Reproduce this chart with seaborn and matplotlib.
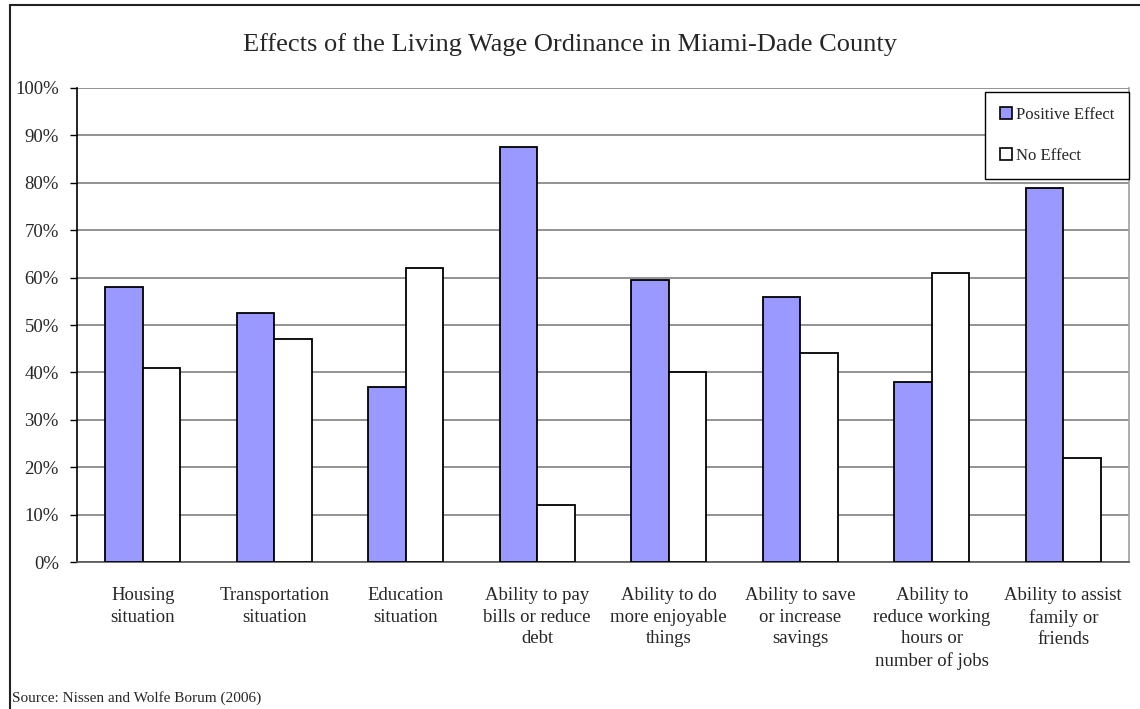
import pandas as pd
import matplotlib.pyplot as plt
import matplotlib.patches as mpatches
import seaborn as sns

# data
categories = [
    "Housing\nsituation",
    "Transportation\nsituation",
    "Education\nsituation",
    "Ability to pay\nbills or reduce\ndebt",
    "Ability to do\nmore enjoyable\nthings",
    "Ability to save\nor increase\nsavings",
    "Ability to\nreduce working\nhours or\nnumber of jobs",
    "Ability to assist\nfamily or\nfriends",
]
positive = [58, 52.5, 37, 87.5, 59.5, 56, 38, 79]
no_effect = [41, 47, 62, 12, 40, 44, 61, 22]
series = ["Positive Effect", "No Effect"]
colors = {"Positive Effect": "#9999FF", "No Effect": "#FFFFFF"}

df = pd.DataFrame({
    "Category": categories * 2,
    "Effect": [series[0]] * len(categories) + [series[1]] * len(categories),
    "Value": positive + no_effect,
})

sns.set_style("white")
plt.rcParams["font.family"] = ["Liberation Serif", "DejaVu Serif"]

fig = plt.figure(figsize=(11.4, 7.09), dpi=100)
ax = fig.add_axes([0.0675, 0.2073, 0.9229, 0.6686])

sns.barplot(data=df, x="Category", y="Value", hue="Effect", palette=colors,
            order=categories, hue_order=series, width=0.57, saturation=1,
            edgecolor="black", linewidth=1.3, ax=ax, legend=False, zorder=3)

ax.set_ylim(0, 100)
ax.set_xlim(-0.5, len(categories) - 0.5)
ax.set_yticks(range(0, 101, 10))
ax.set_yticklabels([f"{v}%" for v in range(0, 101, 10)], fontsize=13.5)
ax.yaxis.grid(True, color="#808080", linewidth=1.2, zorder=0)
ax.set_axisbelow(True)
ax.set_xlabel("")
ax.set_ylabel("")

ax.set_xticks(range(len(categories)))
ax.set_xticklabels(categories, fontsize=13.5, linespacing=1.35)
ax.set_xticks([i - 0.5 for i in range(len(categories) + 1)], minor=True)
ax.tick_params(axis="x", which="major", length=0, pad=18)
ax.tick_params(axis="x", which="minor", length=4, width=1, color="#333333", direction="out")
ax.tick_params(axis="y", length=5, width=1, color="black", direction="out", pad=8, left=True)

ax.spines["top"].set_visible(False)
ax.spines["left"].set_color("black")
ax.spines["left"].set_linewidth(1.2)
ax.spines["bottom"].set_color("#555555")
ax.spines["bottom"].set_linewidth(1.2)
ax.spines["right"].set_color("#A0A0A0")
ax.spines["right"].set_linewidth(1.2)

handles = [mpatches.Patch(facecolor=colors[s], edgecolor="black", linewidth=1.2, label=s)
           for s in series]
leg = ax.legend(handles=handles, loc="upper right", bbox_to_anchor=(1.0, 0.992),
                fontsize=12, frameon=True, fancybox=False, framealpha=1,
                edgecolor="black", labelspacing=1.5, handlelength=0.75,
                handleheight=0.75, handletextpad=0.2, borderpad=0.9,
                borderaxespad=0)
leg.get_frame().set_linewidth(1.0)

fig.text(0.5, 1 - 45 / 709, "Effects of the Living Wage Ordinance in Miami-Dade County",
         ha="center", va="center", fontsize=19)
fig.text(12 / 1140, 1 - 698 / 709, "Source: Nissen and Wolfe Borum (2006)",
         ha="left", va="center", fontsize=11)

# outer chart border (left and top edges visible)
border = mpatches.Rectangle((10 / 1140, -0.05), 1.2, 1 - 5 / 709 + 0.05,
                            transform=fig.transFigure, fill=False,
                            edgecolor="#222222", linewidth=1.5, clip_on=False)
fig.patches.append(border)

fig.savefig("out.png", dpi=100)
